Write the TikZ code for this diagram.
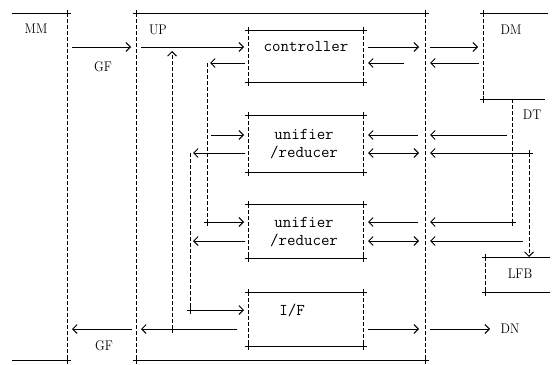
\documentclass[tikz,border=0pt]{standalone}
\usepackage{fontspec}
\usepackage{graphicx}
\usetikzlibrary{arrows.meta}
\tikzset{
  ln/.style={line width=0.9pt},
  dsh/.style={line width=0.9pt,dash pattern=on 4pt off 2pt},
  tip/.tip={Straight Barb[length=4.5pt,width=9pt,line width=0.9pt]},
  arr/.style={ln,-tip},
  darr/.style={ln,tip-tip},
  crn/.pic={\draw[line width=0.9pt] (-3.5,0)--(3.5,0) (0,-3.5)--(0,3.5);},
  lbl/.style={font=\fontsize{14}{14}\selectfont,inner sep=0pt},
  boxtxt/.style={font=\ttfamily\fontsize{16.5}{17.5}\selectfont,align=center,inner sep=0pt}
}
\newcommand\mkbox[2]{%
  \draw[ln] (248,#1) -- (363,#1);
  \draw[ln] (248,#2) -- (363,#2);
  \pic at (248,#1) {crn}; \pic at (363,#1) {crn};
  \pic at (248,#2) {crn}; \pic at (363,#2) {crn};
  \draw[dsh] (248,#1) -- (248,#2);
  \draw[dsh] (363,#1) -- (363,#2);}
\begin{document}
\begin{tikzpicture}[x=1pt,y=-1pt]
\useasboundingbox (0,0) rectangle (556,364);
% MM
\draw[ln] (12,13) -- (67,13); \pic at (67,13) {crn};
\draw[ln] (12,360) -- (67,360); \pic at (67,360) {crn};
\draw[dsh] (67,13) -- (67,360);
\node[lbl] (mm) at (36,29) {\scalebox{0.9}[1]{MM}};
% UP
\draw[ln] (136,13) -- (425,13); \pic at (136,13) {crn}; \pic at (425,13) {crn};
\draw[ln] (136,360) -- (425,360); \pic at (136,360) {crn}; \pic at (425,360) {crn};
\draw[dsh] (136,13) -- (136,360);
\draw[dsh] (425,13) -- (425,360);
\node[lbl] (up) at (158,30) {\scalebox{0.9}[1]{UP}};
% DM
\draw[ln] (483,13) -- (548,13); \pic at (483,13) {crn};
\draw[ln] (483,99) -- (545,99); \pic at (483,99) {crn};
\draw[dsh] (483,13) -- (483,99);
\node[lbl] (dm) at (511,30) {\scalebox{0.9}[1]{DM}};
\node[lbl] (dt) at (532,115) {\scalebox{0.9}[1]{DT}};
% LFB
\draw[ln] (485,257) -- (550,257); \pic at (485,257) {crn};
\draw[ln] (485,292) -- (550,292); \pic at (485,292) {crn};
\draw[dsh] (485,257) -- (485,292);
\node[lbl] (lfb) at (520,274) {\scalebox{0.9}[1]{LFB}};
\node[lbl] (dn) at (510,329) {\scalebox{0.9}[1]{DN}};
\node[lbl] (gf1) at (103,67) {\scalebox{0.9}[1]{GF}};
\node[lbl] (gf2) at (104,346) {\scalebox{0.9}[1]{GF}};
% inner boxes
\mkbox{30}{82}
\mkbox{115}{172}
\mkbox{204}{258}
\mkbox{292}{346}
\node[boxtxt] (ctl) at (306,47) {controller};
\node[boxtxt] (ur1) at (304,144) {unifier\\/reducer};
\node[boxtxt] (ur2) at (304,232) {unifier\\/reducer};
\node[boxtxt] (if) at (292,310) {I/F};
% coordinates
\coordinate (a1) at (72,47);   \coordinate (a2) at (131,47);
\coordinate (a3) at (141,47);  \coordinate (a4) at (244,47);
\coordinate (a5) at (368,47);  \coordinate (a6) at (419,47);
\coordinate (a7) at (430,47);  \coordinate (a8) at (478,47);
\coordinate (b1) at (245,63);  \coordinate (b2) at (210,63);
\coordinate (b3) at (404,63);  \coordinate (b4) at (368,63);
\coordinate (b5) at (479,63);  \coordinate (b6) at (430,63);
\coordinate (v1t) at (207,63); \coordinate (v1b) at (207,222);
\coordinate (v2t) at (190,153);\coordinate (v2b) at (190,310);
\coordinate (v3t) at (172,51); \coordinate (v3b) at (172,329);
\coordinate (v4t) at (512,99); \coordinate (v4b) at (512,222);
\coordinate (v5t) at (529,153);\coordinate (v5b) at (529,257);
% controller rows
\draw[arr] (a1) -- (a2);
\draw[arr] (a3) -- (a4);
\draw[arr] (a5) -- (a6);
\draw[arr] (a7) -- (a8);
\draw[arr] (b1) -- (b2);
\draw[arr] (b3) -- (b4);
\draw[arr] (b5) -- (b6);
% verticals
\draw[dsh] (v1t) -- (v1b);
\draw[dsh] (v2t) -- (v2b);
\draw[dsh,-tip] (v3b) -- (v3t);
\draw[dsh] (v4t) -- (v4b);
\draw[dsh,-tip] (v5t) -- (v5b);
% unifier 1
\coordinate (c1) at (211,135); \coordinate (c2) at (244,135);
\coordinate (c3) at (245,153); \coordinate (c4) at (193,153);
\draw[arr] (c1) -- (c2);
\draw[arr] (c3) -- (c4);
\draw[arr] (418,135) coordinate (c5) -- (368,135) coordinate (c6);
\draw[darr] (368,153) coordinate (c7) -- (419,153) coordinate (c8);
\draw[arr] (507,135) coordinate (c9) -- (430,135) coordinate (c10);
\draw[arr] (v5t) -- (430,153) coordinate (c11);
\pic at (v5t) {crn};
% unifier 2
\draw[arr] (v1b) -- (244,222) coordinate (d1);
\pic at (v1b) {crn};
\draw[arr] (245,241) coordinate (d2) -- (193,241) coordinate (d3);
\draw[arr] (418,222) coordinate (d4) -- (368,222) coordinate (d5);
\draw[darr] (368,241) coordinate (d6) -- (419,241) coordinate (d7);
\draw[arr] (v4b) -- (430,222) coordinate (d8);
\pic at (v4b) {crn};
\draw[arr] (523,241) coordinate (d9) -- (430,241) coordinate (d10);
% I/F
\draw[arr] (v2b) -- (244,310) coordinate (e1);
\pic at (v2b) {crn};
\draw[arr] (237,329) coordinate (e2) -- (141,329) coordinate (e3);
\pic at (v3b) {crn};
\draw[arr] (132,329) coordinate (e4) -- (72,329) coordinate (e5);
\draw[arr] (368,329) coordinate (e6) -- (419,329) coordinate (e7);
\draw[arr] (430,329) coordinate (e8) -- (490,329) coordinate (e9);
\end{tikzpicture}
\end{document}
